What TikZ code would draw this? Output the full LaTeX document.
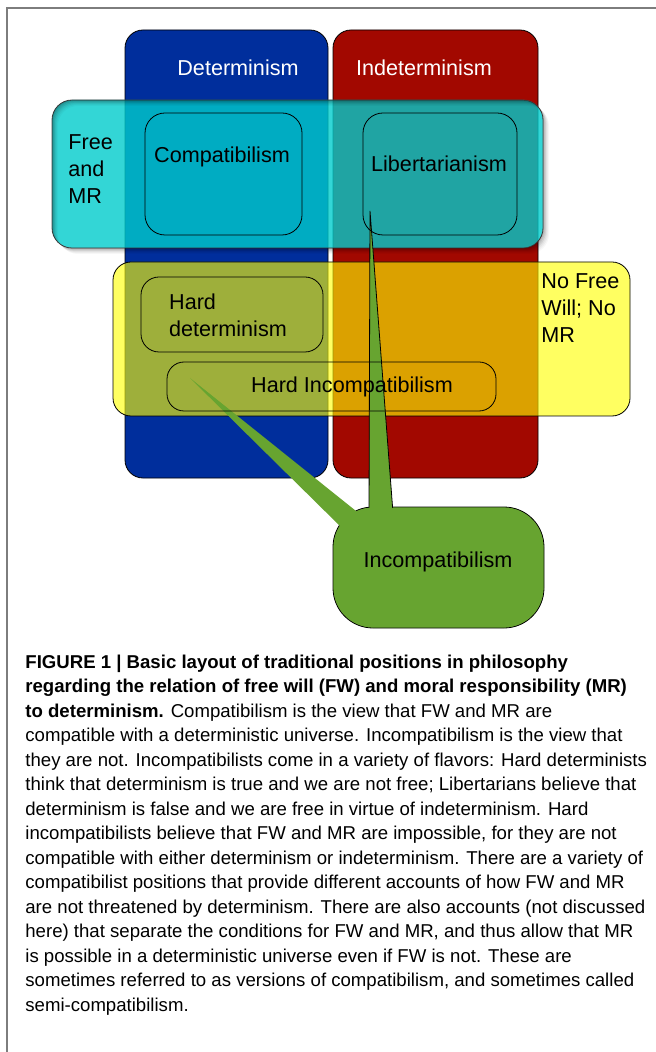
\documentclass[tikz,border=0pt]{standalone}
\usepackage{fontspec}
\setmainfont{Liberation Sans}

\definecolor{detblue}{RGB}{0,46,156}
\definecolor{indetred}{RGB}{162,8,0}
\definecolor{freecyan}{RGB}{0,204,204}
\definecolor{nofreeyellow}{RGB}{255,255,0}
\definecolor{incgreen}{RGB}{103,164,48}
\definecolor{framegray}{RGB}{125,125,125}

\begin{document}
\begin{tikzpicture}[x=0.5pt,y=-0.5pt,
	every node/.style={font=\fontsize{10.8}{13.3}\selectfont},
	region/.style={draw=black,line width=0.4pt,rounded corners=#1,inner sep=0pt,outer sep=0pt},
	region/.default=9pt,
	lbl/.style={inner sep=0pt,align=left}
	]
	\useasboundingbox (0,0) rectangle (656,1052);
	
	%FRAME
	\draw[framegray,line width=0.8pt] (7,1052) -- (7,8) -- (656,8);
	
	%COLUMNS
	\node[region,fill=detblue,minimum width=101.5pt,minimum height=224pt] (det) at (226.5,254) {};
	\node[region,fill=indetred,minimum width=102.5pt,minimum height=224pt] (indet) at (435.5,254) {};
	\node[white] (detname) at (238,68) {Determinism};
	\node[white] (indetname) at (424,68) {Indeterminism};
	
	%FREE AND MR
	\node[region=10pt,draw=black!70,fill=freecyan,fill opacity=0.8,minimum width=245.5pt,minimum height=74pt] (fwmr) at (297.5,174) {};
	\foreach \d/\o in {1/0.10,2/0.08,3/0.07,4/0.05,5/0.04,6/0.03}
		\fill[black,opacity=\o,even odd rule,rounded corners=10pt]
			([shift={(\d*0.5pt,-\d*0.5pt)}]fwmr.north west) rectangle ([shift={(\d*0.5pt,-\d*0.5pt)}]fwmr.south east)
			(fwmr.north west) rectangle (fwmr.south east);
	
	%NO FREE WILL
	\node[region,fill=nofreeyellow,fill opacity=0.62,minimum width=258.5pt,minimum height=77pt] (nofw) at (371.5,339) {};
	
	%INCOMPATIBILISM CALLOUT
	\node[region=20pt,fill=incgreen,minimum width=105.5pt,minimum height=60.5pt] (incomp) at (438.5,567.5) {};
	\coordinate (libtip) at (370,211);
	\coordinate (hardtip) at (190,378);
	\fill[incgreen] (hardtip) -- ([shift={(6pt,-12pt)}]incomp.north west) -- ([shift={(14pt,-4pt)}]incomp.north west) -- cycle;
	\filldraw[fill=incgreen,draw=black,line width=0.4pt] (libtip) -- ([shift={(18pt,-3pt)}]incomp.north west) -- ([shift={(30pt,-3pt)}]incomp.north west) -- cycle;
	\fill[incgreen,rounded corners=19.6pt] ([shift={(0.4pt,-0.4pt)}]incomp.north west) rectangle ([shift={(-0.4pt,0.4pt)}]incomp.south east);
	\node (incompname) at (438,562) {Incompatibilism};
	
	%INNER BOXES
	\node[region=10pt,minimum width=78.5pt,minimum height=61pt] (compat) at (223.5,174) {};
	\node[region=10pt,minimum width=77pt,minimum height=61pt] (libert) at (440,174) {};
	\node[region,minimum width=91pt,minimum height=37.5pt] (harddet) at (232,314.5) {};
	\node[region=8.5pt,minimum width=164.5pt,minimum height=24.5pt] (hardinc) at (331.5,386.5) {};
	
	%LABELS
	\node (compatname) at (222,157) {Compatibilism};
	\node (libertname) at (439,164) {Libertarianism};
	\node[lbl] (harddetname) at (228,315.5) {Hard\\determinism};
	\node (hardincname) at (352,387) {Hard Incompatibilism};
	\node[lbl,anchor=west] (fwmrname) at (68,169) {Free\\and\\MR};
	\node[lbl,anchor=west] (nofwname) at (541,308) {No Free\\Will; No\\MR};
	
	%CAPTION
	\node[lbl,anchor=base west,font=\fontsize{9.3}{12.25}\selectfont] (caption) at (25,1011) {%
		\textbf{FIGURE 1 | Basic layout of traditional positions in philosophy}\\
		\textbf{regarding the relation of free will (FW) and moral responsibility (MR)}\\
		\textbf{to determinism.} Compatibilism is the view that FW and MR are\\
		compatible with a deterministic universe. Incompatibilism is the view that\\
		they are not. Incompatibilists come in a variety of flavors: Hard determinists\\
		think that determinism is true and we are not free; Libertarians believe that\\
		determinism is false and we are free in virtue of indeterminism. Hard\\
		incompatibilists believe that FW and MR are impossible, for they are not\\
		compatible with either determinism or indeterminism. There are a variety of\\
		compatibilist positions that provide different accounts of how FW and MR\\
		are not threatened by determinism. There are also accounts (not discussed\\
		here) that separate the conditions for FW and MR, and thus allow that MR\\
		is possible in a deterministic universe even if FW is not. These are\\
		sometimes referred to as versions of compatibilism, and sometimes called\\
		semi-compatibilism.
	};
\end{tikzpicture}
\end{document}
